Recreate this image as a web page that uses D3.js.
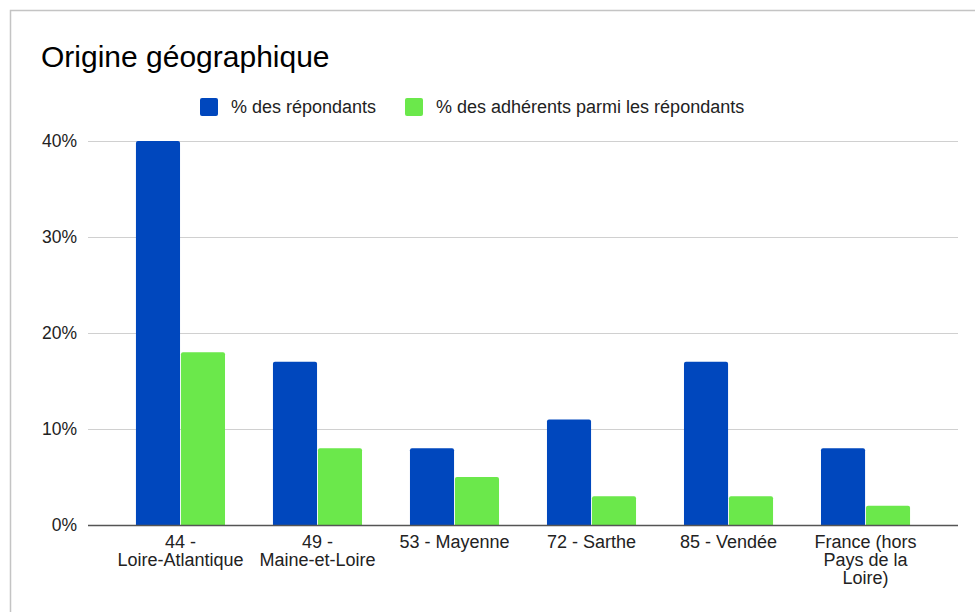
<!DOCTYPE html>
<html>
<head>
<meta charset="utf-8">
<script src="https://cdn.jsdelivr.net/npm/d3@7"></script>
<style>
  body { margin: 0; background: #fff; }
  text { font-family: "Liberation Sans", Arial, sans-serif; fill: #222; }
</style>
</head>
<body>
<script>
var categories = ["44 -\nLoire-Atlantique", "49 -\nMaine-et-Loire", "53 - Mayenne", "72 - Sarthe", "85 - Vendée", "France (hors\nPays de la\nLoire)"],
seriesNames = ["% des répondants", "% des adhérents parmi les répondants"],
repondants = [40, 17, 8, 11, 17, 8],
adherents = [18, 8, 5, 3, 3, 2],
yTicks = [0, 10, 20, 30, 40],
colors = ["#0047bd", "#6be84b"];

var width = 975, height = 612;
var margin = {top: 141, right: 17, bottom: 87, left: 88};

var svg = d3.select("body").append("svg")
    .attr("width", width)
    .attr("height", height);

// cadre gris (haut et gauche seulement, le reste sort de l'image)
svg.append("path")
    .attr("d", "M10.5,612 V10.5 H975")
    .attr("fill", "none")
    .attr("stroke", "#c4c4c4")
    .attr("stroke-width", 1.5);

svg.append("text")
    .attr("x", 41)
    .attr("y", 67)
    .style("font-size", "30px")
    .style("fill", "#000")
    .text("Origine géographique");

var x0 = d3.scaleBand()
    .domain(categories)
    .range([margin.left, width - margin.right])
    .paddingInner(0.35)
    .paddingOuter(0.35);

var x1 = d3.scaleBand()
    .domain([0, 1])
    .range([0, x0.bandwidth()])
    .paddingInner(0.02);

var y = d3.scaleLinear()
    .domain([0, 40])
    .range([height - margin.bottom, margin.top]);

// grille
var yAxis = d3.axisLeft(y)
    .tickValues(yTicks)
    .tickSize(-(width - margin.right - margin.left))
    .tickFormat(function(d) { return d + "%"; });

var gy = svg.append("g")
    .attr("transform", "translate(" + margin.left + ",0)")
    .call(yAxis);
gy.select(".domain").remove();
gy.selectAll(".tick line").attr("stroke", "#d0d0d0").attr("stroke-width", 1.2);
gy.selectAll(".tick text")
    .attr("x", -11)
    .style("font-size", "17.5px")
    .style("fill", "#222");

var rows = categories.map(function(c, i) { return [repondants[i], adherents[i]]; });

var groups = svg.append("g").selectAll("g")
    .data(rows)
    .enter().append("g")
    .attr("transform", function(d, i) { return "translate(" + x0(categories[i]) + ",0)"; });

groups.selectAll("path")
    .data(function(d) { return d; })
    .enter().append("path")
    .attr("fill", function(d, j) { return colors[j]; })
    .attr("d", function(d, j) {
        var bx = x1(j), bw = x1.bandwidth(), top = y(d), bot = y(0), r = 2;
        return "M" + bx + "," + bot +
            "V" + (top + r) +
            "Q" + bx + "," + top + " " + (bx + r) + "," + top +
            "H" + (bx + bw - r) +
            "Q" + (bx + bw) + "," + top + " " + (bx + bw) + "," + (top + r) +
            "V" + bot + "Z";
    });

// axe des x
svg.append("line")
    .attr("x1", margin.left)
    .attr("x2", width - margin.right)
    .attr("y1", y(0) + 0.5)
    .attr("y2", y(0) + 0.5)
    .attr("stroke", "#555")
    .attr("stroke-width", 1.5);

var labels = svg.append("g").selectAll("text")
    .data(categories)
    .enter().append("text")
    .attr("text-anchor", "middle")
    .attr("transform", function(d) { return "translate(" + (x0(d) + x0.bandwidth() / 2) + "," + (y(0) + 23) + ")"; })
    .style("font-size", "18px");

labels.selectAll("tspan")
    .data(function(d) { return d.split("\n"); })
    .enter().append("tspan")
    .attr("x", 0)
    .attr("dy", function(d, i) { return i === 0 ? 0 : 18; })
    .text(function(d) { return d; });

// légende
var legX = [200, 405];
var leg = svg.append("g").selectAll("g")
    .data(seriesNames)
    .enter().append("g")
    .attr("transform", function(d, i) { return "translate(" + legX[i] + ",98)"; });

leg.append("rect")
    .attr("width", 18)
    .attr("height", 18)
    .attr("rx", 2)
    .attr("fill", function(d, i) { return colors[i]; });

leg.append("text")
    .attr("x", 31)
    .attr("y", 14.5)
    .style("font-size", "18px")
    .text(function(d) { return d; });
</script>
</body>
</html>
